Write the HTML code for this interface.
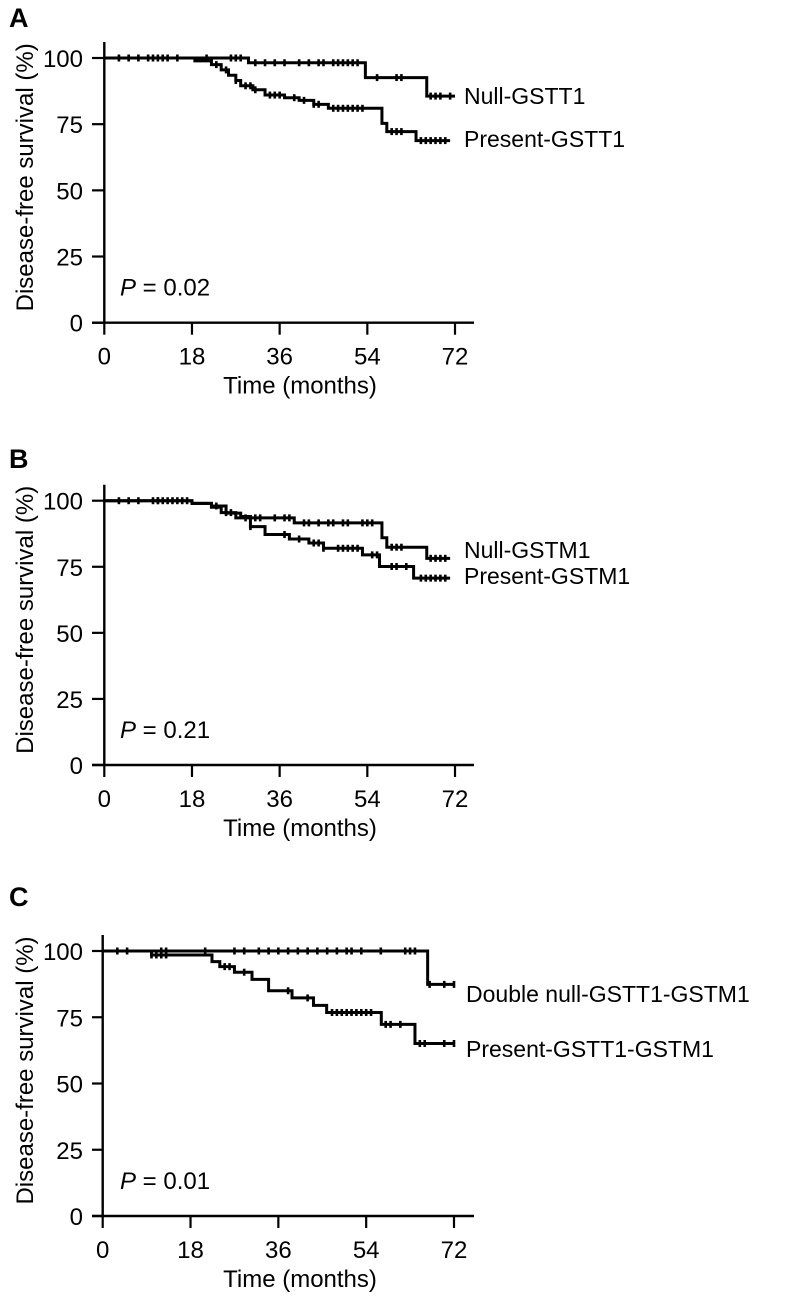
<!DOCTYPE html>
<html><head><meta charset="utf-8"><style>
html,body{margin:0;padding:0;background:#fff;}
svg{display:block;font-family:"Liberation Sans",Arial,sans-serif;}
</style></head><body>
<svg id="fig" width="791" height="1297" viewBox="0 0 791 1297"></svg>
<script>
// Panel A data
const aNullT=[0,29.6,53.6,66.2,72];
const aNullS=[100,98.2,92.6,85.6,85.6];
const aNullC=[3,5,7,11,13,15,21,26,27,28,31,33,35,37,40,42,44,45,47,48,49,50,51,52,56,60,61,67,68,69,71];
const aPresT=[0,18.6,22,24,25.5,27,28,30.5,33,37,40,43,46,57,58,64,71];
const aPresS=[100,98.9,97.5,95.5,93.5,91.5,89.5,88,86,85,84,82.5,81,75.3,72.2,68.8,68.8];
const aPresC=[9,10,12,23,25,27,29,30,31,34,35,36,39,41,43,44,47,48,49,50,51,52,53,59,60,61,65,66,67,68,69,70];
// Panel B data
const bNullT=[0,18,22,25,28,30,39,57,58,66.2,71];
const bNullS=[100,99,98,95.3,94,93.5,91.6,86,82.4,78.2,78.2];
const bNullC=[3,5,7,11,12,14,15,17,23,31,32,35,37,38,41,42,44,46,47,49,50,53,54,55,59,60,61,67,68,69,70];
const bPresT=[0,18,22,24,27,30,33,38,42,45,53,56.5,63.5,71];
const bPresS=[100,99,97.5,95.5,93.5,90.2,87.2,85.5,84,82,79.5,75.1,70.7,70.7];
const bPresC=[10,11,13,16,25,26,29,30,37,40,43,44,45,48,49,50,51,52,55,56,59,60,62,65,66,67,68,69,70];
// Panel C data
const cNullT=[0,66.6,72];
const cNullS=[100,87.4,87.4];
const cNullC=[3,5,12,13,21,27,29,32,34,36,38,40,42,44,46,48,50,51,53,57,62,63,64,67,70,72];
const cPresT=[0,10,22.4,24,27,30.6,34,38.8,43.2,45.9,57.1,64,72];
const cPresS=[100,98.5,96,94.1,92,89.3,85,82.3,79.5,76.8,72.3,65.1,65.1];
const cPresC=[10,11,12,13,25,26,29,38,42,47,48,49,50,51,52,53,54,55,58,59,61,65,66,70,72];
const xTicks=[0,18,36,54,72];
const yTicks=[0,25,50,75,100];

const NS="http://www.w3.org/2000/svg";
const svg=document.getElementById('fig');
function mk(tag,attrs,parent){const e=document.createElementNS(NS,tag);for(const k in attrs)e.setAttribute(k,attrs[k]);(parent||svg).appendChild(e);return e;}

function panel(cfg){
  const g=mk('g',{});
  
  
  const x=t=>cfg.x0+(cfg.x72-cfg.x0)*t/72;
  const y=v=>cfg.y0+(cfg.y100-cfg.y0)*v/100;
  const L=mk('text',{x:9,y:cfg.letterY,'font-size':27,'font-weight':'bold'},g);L.textContent=cfg.letter;
  
  
  const ax=mk('path',{d:`M${cfg.x0} ${cfg.y100-16}V${cfg.y0}M92 ${cfg.y0}H474`,stroke:'#000','stroke-width':2.4,fill:'none'},g);
  
  
  xTicks.forEach(t=>{
    mk('line',{x1:x(t),x2:x(t),y1:cfg.y0,y2:cfg.y0+12,stroke:'#000','stroke-width':2.2},g);
    const tx=mk('text',{x:x(t),y:cfg.y0+42,'font-size':24,'text-anchor':'middle'},g);tx.textContent=t;
    
    
  });
  yTicks.forEach(v=>{
    mk('line',{x1:92,x2:cfg.x0,y1:y(v),y2:y(v),stroke:'#000','stroke-width':2.2},g);
    const ty=mk('text',{x:83,y:y(v)+9,'font-size':24,'text-anchor':'end'},g);ty.textContent=v;
    
    
  });
  const yt=mk('text',{transform:`translate(33 ${(cfg.y0+cfg.y100)/2-13}) rotate(-90)`,'font-size':24,'text-anchor':'middle'},g);
  yt.textContent='Disease-free survival (%)';
  
  
  const xt=mk('text',{x:300,y:cfg.y0+71,'font-size':24,'text-anchor':'middle'},g);
  xt.textContent='Time (months)';
  
  
  const p=mk('text',{x:120,y:cfg.y0-27,'font-size':24},g);
  p.innerHTML='<tspan font-style="italic">P</tspan> = '+cfg.p;
  
  
  cfg.series.forEach(s=>{
    let d=`M${x(s.t[0])} ${y(s.s[0])}`;
    for(let i=1;i<s.t.length;i++){d+=`H${x(s.t[i])}V${y(s.s[i])}`;}
    const path=mk('path',{d:d,stroke:'#000','stroke-width':3,fill:'none'},g);
    
    
    s.c.forEach(ct=>{
      let v=s.s[0];for(let i=0;i<s.t.length;i++){if(s.t[i]<=ct)v=s.s[i];}
      const m=mk('line',{x1:x(ct),x2:x(ct),y1:y(v)-3.5,y2:y(v)+3.5,stroke:'#000','stroke-width':2.6},g);
      
      
    });
    const lt=mk('text',{x:s.lx,y:s.ly,'font-size':23},g);lt.textContent=s.label;
    
    
  });
}
panel({letter:'A',letterY:27,x0:104.3,x72:455,y0:322.7,y100:58,p:'0.02',series:[
  {name:'null-gstt1',t:aNullT,s:aNullS,c:aNullC,label:'Null-GSTT1',lx:464,ly:104},
  {name:'present-gstt1',t:aPresT,s:aPresS,c:aPresC,label:'Present-GSTT1',lx:464,ly:147}]});
panel({letter:'B',letterY:468,x0:104.3,x72:455,y0:765,y100:500.7,p:'0.21',series:[
  {name:'null-gstm1',t:bNullT,s:bNullS,c:bNullC,label:'Null-GSTM1',lx:464,ly:558},
  {name:'present-gstm1',t:bPresT,s:bPresS,c:bPresC,label:'Present-GSTM1',lx:464,ly:584}]});
panel({letter:'C',letterY:906,x0:102.7,x72:454,y0:1216,y100:951,p:'0.01',series:[
  {name:'double-null',t:cNullT,s:cNullS,c:cNullC,label:'Double null-GSTT1-GSTM1',lx:466,ly:1002},
  {name:'present-gstt1-gstm1',t:cPresT,s:cPresS,c:cPresC,label:'Present-GSTT1-GSTM1',lx:466,ly:1057}]});
</script>
</body></html>
